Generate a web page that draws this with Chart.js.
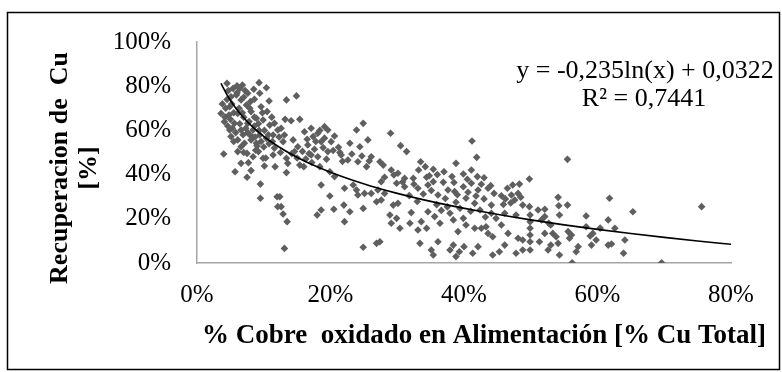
<!DOCTYPE html>
<html>
<head>
<meta charset="utf-8">
<script src="https://cdn.jsdelivr.net/npm/chart.js@4.4.1/dist/chart.umd.min.js"></script>
<style>
  html, body { margin: 0; padding: 0; background: #ffffff; }
  #wrap { width: 782px; height: 372px; }
</style>
</head>
<body>
<div id="wrap"><canvas id="recovery-chart" width="782" height="372"></canvas></div>
<script>
// % oxidised copper in feed (x) and Cu recovery (y), both in percent
const oxidePct = [
  4.5, 6.0, 6.8, 9.3, 10.4, 8.5, 7.6, 9.4, 10.8, 8.6,
  9.6, 10.5, 3.6, 4.1, 4.9, 5.1, 5.9, 6.6, 7.4, 8.1,
  8.9, 9.9, 10.9, 11.6, 6.1, 5.6, 4.9, 6.6, 7.6, 8.4,
  9.4, 10.4, 6.1, 7.1, 8.1, 5.1, 6.6, 8.9, 11.4, 12.1,
  4.5, 5.2, 5.5, 4.3, 3.8, 5.0, 6.3, 7.0, 7.8, 8.6,
  9.3, 6.9, 7.6, 8.3, 9.0, 10.0, 10.8, 11.6, 5.5, 4.6,
  6.0, 7.2, 8.0, 9.8, 11.2, 12.3, 7.0, 8.8, 10.3, 12.5,
  4.2, 4.8, 5.3, 5.8, 6.4, 6.8, 7.3, 7.9, 8.7, 9.6,
  4.7, 5.4, 6.4, 7.0, 7.9, 8.6, 9.2, 10.1, 10.7, 11.3,
  4.0, 6.1, 7.5, 8.4, 9.2, 9.9, 11.4, 11.7, 10.1, 6.6,
  7.7, 5.7, 8.1, 7.5, 9.5, 9.5, 12.0, 12.1,
  13.4, 14.9, 13.2, 14.1, 15.4, 12.6, 13.1, 12.9, 14.4, 16.1,
  17.1, 17.4, 18.1, 19.1, 19.6, 18.6, 20.1, 16.6, 15.1, 22.9,
  23.9, 24.9, 25.6, 24.4, 16.5, 17.8, 18.4, 19.1, 20.6, 21.4,
  13.4, 13.6, 13.4, 14.6, 15.4, 16.0, 17.1, 18.1, 18.4, 19.6,
  19.9, 20.6, 21.6, 22.6, 24.1, 25.4, 26.1, 12.4, 12.6, 12.9,
  13.5, 13.1, 18.6, 19.9, 18.6, 18.0, 20.5, 22.0, 22.9, 22.1,
  24.9, 24.9, 23.9, 24.1, 25.1, 22.1, 23.4, 26.1, 26.9, 26.9,
  15.8, 16.8, 17.6, 18.9, 19.4, 20.4, 21.2, 21.8, 23.2, 24.7,
  25.8, 16.3, 14.2, 17.2, 15.0,
  29.0, 30.5, 31.4, 41.2, 41.9, 38.8, 33.5, 27.4, 27.9, 29.1,
  30.1, 33.2, 34.2, 35.4, 37.0, 38.2, 39.9, 41.1, 42.0, 43.0,
  28.1, 31.1, 32.4, 34.4,
  27.6, 27.1, 28.1, 29.9, 31.1, 33.1, 34.6, 35.4, 36.1, 37.6,
  38.6, 39.9, 41.1, 42.1, 43.6, 40.3, 41.6, 44.1, 27.6, 29.4,
  30.1, 32.1, 34.6, 35.6, 36.4, 33.6, 31.9, 28.9, 29.1, 29.9,
  30.4, 33.1, 34.4, 37.9, 38.4, 39.9, 40.3, 41.6, 39.1, 43.6,
  44.3, 27.4, 33.4, 35.1, 35.4, 36.1, 37.9, 38.4, 38.8, 39.3,
  40.0, 41.3, 42.1, 44.3, 42.6, 43.3, 44.1, 44.8,
  30.8, 32.5, 33.9, 35.1, 36.9, 37.2, 39.0, 40.6, 41.8, 43.0,
  44.5, 38.5, 34.8, 36.0, 40.5, 42.6, 44.0, 29.5, 31.8, 33.0,
  35.9, 37.5, 39.4, 41.0, 42.4, 43.2, 38.8, 36.6,
  55.5, 49.8, 48.3, 47.3, 46.5,
  75.6, 65.3, 61.8, 58.3, 54.1, 54.2, 55.5, 54.3, 52.1, 51.1,
  49.8, 49.9, 49.9, 49.9, 49.9, 49.9, 49.9, 48.8, 47.6, 47.1,
  48.1, 46.1, 47.8, 45.6, 46.6, 48.1, 48.8, 46.1, 45.3, 48.8,
  47.8, 51.6, 52.1, 52.7, 53.0, 51.3, 52.6, 53.0, 52.1, 53.3,
  53.8, 54.1, 54.3, 55.6, 56.1, 55.8, 57.1, 56.8, 56.2, 58.3,
  59.3, 59.8, 59.1, 61.6, 62.6, 61.6, 62.1, 64.1, 63.9, 69.6,
  60.4, 58.9, 45.6, 46.2, 47.0, 45.9, 48.5
];
const recoveryPct = [
  81.3, 80.2, 80.5, 81.6, 79.3, 78.6, 76.8, 76.8, 73.3, 74.1,
  70.7, 68.5, 67.7, 63.9, 70.7, 75.2, 76.0, 73.8, 71.5, 68.5,
  65.5, 64.7, 62.4, 63.2, 67.7, 63.2, 60.2, 60.2, 63.2, 60.2,
  57.9, 56.4, 55.7, 54.2, 55.7, 57.2, 52.6, 54.2, 57.9, 60.2,
  74.0, 72.0, 68.0, 70.0, 72.0, 65.0, 70.0, 66.0, 64.0, 62.0,
  60.0, 58.0, 59.0, 57.0, 53.0, 52.5, 54.0, 52.0, 55.0, 62.0,
  77.0, 78.0, 73.0, 68.0, 66.0, 57.0, 50.0, 51.0, 47.5, 50.0,
  66.0, 67.0, 61.0, 59.0, 63.0, 68.0, 61.0, 58.0, 57.0, 55.0,
  78.0, 79.0, 79.0, 75.0, 70.0, 66.0, 63.0, 60.0, 58.0, 55.0,
  49.3, 50.4, 49.6, 48.1, 50.4, 47.4, 48.9, 43.6, 43.9, 45.1,
  45.4, 41.3, 41.8, 38.8, 35.7, 29.3, 30.0, 25.5,
  73.8, 75.6, 65.0, 64.4, 65.0, 61.0, 57.9, 54.9, 55.7, 59.4,
  61.0, 57.2, 58.7, 61.7, 60.2, 54.9, 54.9, 53.4, 52.6, 54.2,
  60.2, 63.2, 55.7, 52.6, 56.0, 55.0, 60.0, 56.5, 57.5, 50.0,
  47.4, 45.1, 40.9, 50.4, 44.3, 43.6, 48.9, 48.1, 43.6, 50.4,
  41.3, 39.1, 48.9, 46.6, 45.8, 43.6, 48.1, 30.0, 25.5, 22.2,
  18.7, 6.6, 35.3, 30.3, 24.0, 21.7, 24.3, 26.2, 23.2, 18.7,
  24.7, 7.1, 33.0, 30.8, 31.5, 33.8, 35.3, 31.5, 8.9, 27.7,
  50.5, 49.5, 51.5, 52.2, 47.0, 50.9, 52.4, 46.0, 49.3, 48.4,
  46.2, 47.1, 49.5, 45.5, 47.5,
  58.7, 53.1, 50.4, 55.2, 47.8, 45.1, 45.8, 45.8, 44.3, 42.1,
  40.6, 42.1, 43.6, 42.4, 41.3, 39.1, 40.3, 42.1, 39.1, 38.6,
  38.8, 38.3, 38.3, 38.8,
  36.8, 33.0, 31.5, 36.1, 34.5, 33.8, 35.3, 36.8, 30.8, 33.0,
  32.3, 34.5, 36.1, 33.0, 33.8, 29.3, 27.0, 26.2, 28.5, 26.2,
  27.0, 22.8, 23.2, 21.0, 18.0, 18.7, 18.0, 21.7, 18.0, 20.2,
  15.7, 14.9, 15.7, 22.5, 19.5, 20.2, 17.2, 15.7, 14.2, 13.4,
  11.9, 9.6, 8.9, 5.9, 3.6, 9.6, 5.9, 8.1, 2.9, 5.1,
  7.4, 4.4, 7.4, 3.6, 15.7, 16.4, 22.5, 20.2,
  36.6, 35.6, 31.2, 32.8, 36.5, 29.2, 30.9, 32.0, 30.3, 29.0,
  31.5, 36.4, 39.5, 40.0, 37.9, 35.6, 35.0, 39.8, 30.5, 27.8,
  26.4, 25.4, 24.8, 23.4, 24.0, 20.8, 27.5, 23.8,
  46.9, 38.0, 35.7, 35.3, 33.8,
  25.5, 23.2, 29.3, 21.3, 29.7, 25.9, 26.2, 21.7, 24.3, 24.0,
  25.5, 21.7, 18.7, 15.7, 12.7, 9.6, 5.9, 26.2, 28.5, 30.8,
  31.5, 22.5, 21.7, 17.2, 13.4, 11.2, 10.4, 8.1, 5.1, 5.9,
  4.4, 19.5, 21.0, 18.0, 17.2, 9.6, 5.9, 8.1, 13.4, 13.4,
  11.9, 8.9, 3.6, 14.2, 12.7, 11.2, 7.4, 5.1, 0.1, 16.4,
  13.4, 10.4, 8.1, 19.5, 15.7, 8.1, 8.6, 10.4, 4.4, 0.1,
  15.8, 12.2, 30.4, 29.0, 27.2, 26.5, 29.8
];

// logarithmic trend: y = -0,235 ln(x) + 0,0322 (x, y as fractions)
const trendSlope = -0.235;
const trendIntercept = 0.0322;
const trendR2 = '0,7441';
const trendX = [3.6, 4, 4.5, 5, 5.5, 6, 7, 8, 9, 10, 11, 12, 14, 16, 18, 20, 23, 26, 30, 34, 38, 42, 46, 50, 55, 60, 65, 70, 75, 80];

const xTicks = [0, 20, 40, 60, 80];
const yTicks = [0, 20, 40, 60, 80, 100];

const serif = "'Liberation Serif', 'Times New Roman', serif";
const axisGrey = '#a6a6a6';
const pointGrey = '#5f5f5f';

const scatterPoints = oxidePct.map((x, i) => ({ x: x, y: recoveryPct[i] }));
const trendPoints = trendX.map(x => ({ x: x, y: (trendSlope * Math.log(x / 100) + trendIntercept) * 100 }));

// frame, axis titles and trend equation
const decorations = {
  id: 'decorations',
  afterDraw(chart) {
    const ctx = chart.ctx;
    ctx.save();
    ctx.strokeStyle = '#000000';
    ctx.lineWidth = 1.5;
    ctx.strokeRect(7.5, 12.5, 772, 357);

    ctx.fillStyle = '#000000';
    ctx.textAlign = 'center';
    ctx.textBaseline = 'middle';

    ctx.font = 'bold 27px ' + serif;
    ctx.fillText('% Cobre  oxidado en Alimentación [% Cu Total]', 484, 336);

    ctx.font = 'bold 26px ' + serif;
    ctx.save();
    ctx.translate(60, 168);
    ctx.rotate(-Math.PI / 2);
    ctx.fillText('Recuperacion de  Cu', 0, 0);
    ctx.fillText('[%]', 0, 29);
    ctx.restore();

    ctx.font = '26px ' + serif;
    ctx.fillText('y = -0,235ln(x) + 0,0322', 645, 71);
    ctx.fillText('R² = ' + trendR2, 644, 99);
    ctx.restore();
  }
};

const ctx = document.getElementById('recovery-chart').getContext('2d');

new Chart(ctx, {
  type: 'scatter',
  data: {
    datasets: [
      {
        type: 'line',
        label: 'Tendencia',
        data: trendPoints,
        showLine: true,
        borderColor: '#000000',
        borderWidth: 1.6,
        pointRadius: 0,
        cubicInterpolationMode: 'monotone',
        fill: false,
        order: 0
      },
      {
        label: 'Recuperación',
        data: scatterPoints,
        pointStyle: 'rectRot',
        pointRadius: 3.8,
        backgroundColor: pointGrey,
        borderColor: pointGrey,
        borderWidth: 0,
        order: 1
      }
    ]
  },
  options: {
    responsive: false,
    animation: false,
    devicePixelRatio: 1,
    layout: {
      padding: { left: 0, top: 42, right: 51, bottom: 0 }
    },
    plugins: {
      legend: { display: false },
      tooltip: { enabled: false }
    },
    scales: {
      x: {
        type: 'linear',
        min: 0,
        max: 80,
        afterBuildTicks: scale => { scale.ticks = xTicks.map(v => ({ value: v })); },
        afterFit: scale => { scale.height = 109; },
        grid: { display: false, drawTicks: false },
        border: { display: true, color: axisGrey, width: 1.5 },
        ticks: {
          color: '#000000',
          padding: 17,
          maxRotation: 0,
          font: { family: serif, size: 25 },
          callback: v => v + '%'
        }
      },
      y: {
        min: 0,
        max: 100,
        afterBuildTicks: scale => { scale.ticks = yTicks.map(v => ({ value: v })); },
        afterFit: scale => { scale.width = 197; },
        grid: { display: false, drawTicks: false },
        border: { display: true, color: axisGrey, width: 1.5 },
        ticks: {
          color: '#000000',
          padding: 26,
          font: { family: serif, size: 25 },
          callback: v => v + '%'
        }
      }
    }
  },
  plugins: [decorations]
});
</script>
</body>
</html>
